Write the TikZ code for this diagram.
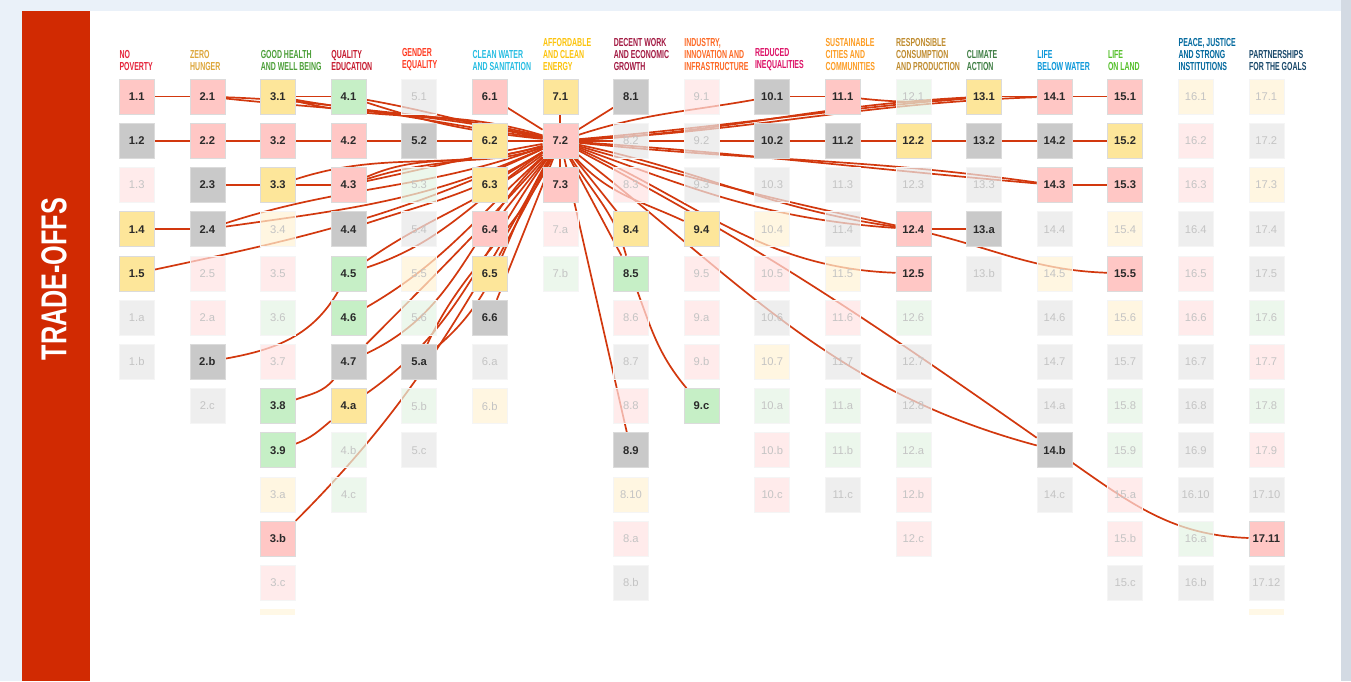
\documentclass[tikz,border=0pt]{standalone}
\usepackage{fontspec}
\setmainfont{Liberation Sans}
\newfontfamily\hdfont[FakeStretch=0.6]{Liberation Sans}
\newfontfamily\sidefont[FakeStretch=0.7]{Liberation Sans}

\definecolor{pagebg}{HTML}{EAF1F9}
\definecolor{edgegray}{HTML}{D3DAE3}
\definecolor{sidebar}{HTML}{D12A02}
\definecolor{linkred}{HTML}{D2380E}
\definecolor{tgtext}{HTML}{2A2A2A}
\definecolor{fdtext}{HTML}{C4C4C4}
\definecolor{tgpink}{HTML}{FFC7C5}
\definecolor{tggray}{HTML}{C9C9C9}
\definecolor{tgyel}{HTML}{FDE69A}
\definecolor{tggrn}{HTML}{C6EFC6}
\definecolor{fdpink}{HTML}{FFE3E3}
\definecolor{fdgray}{HTML}{E8E8E8}
\definecolor{fdyel}{HTML}{FFF3D5}
\definecolor{fdgrn}{HTML}{E5F5E5}
\definecolor{sdg1}{HTML}{E5243B}
\definecolor{sdg2}{HTML}{DDA63A}
\definecolor{sdg3}{HTML}{4C9F38}
\definecolor{sdg4}{HTML}{C5192D}
\definecolor{sdg5}{HTML}{FF3A21}
\definecolor{sdg6}{HTML}{26BDE2}
\definecolor{sdg7}{HTML}{FCC30B}
\definecolor{sdg8}{HTML}{A21942}
\definecolor{sdg9}{HTML}{FD6925}
\definecolor{sdg10}{HTML}{DD1367}
\definecolor{sdg11}{HTML}{FD9D24}
\definecolor{sdg12}{HTML}{BF8B2E}
\definecolor{sdg13}{HTML}{3F7E44}
\definecolor{sdg14}{HTML}{0A97D9}
\definecolor{sdg15}{HTML}{56C02B}
\definecolor{sdg16}{HTML}{00689D}
\definecolor{sdg17}{HTML}{19486A}

\pgfdeclarelayer{back}
\pgfdeclarelayer{links}
\pgfsetlayers{back,links,main}

\tikzset{
  box/.style={minimum size=17.5pt, inner sep=0pt, line width=0.3pt,
    font=\fontsize{5.6}{6}\selectfont},
  strong/.style={text=tgtext, draw=black!14, font=\fontsize{5.6}{6}\selectfont\bfseries},
  faint/.style={text=fdtext, draw=black!4, fill opacity=0.7, text opacity=1},
  cP/.style={strong, fill=tgpink},
  cG/.style={strong, fill=tggray},
  cY/.style={strong, fill=tgyel},
  cN/.style={strong, fill=tggrn},
  cp/.style={faint, fill=fdpink},
  cg/.style={faint, fill=fdgray},
  cy/.style={faint, fill=fdyel},
  cn/.style={faint, fill=fdgrn},
  hd/.style={anchor=south west, align=left, inner sep=0pt,
    font=\fontsize{5.8}{6}\hdfont\bfseries},
  link/.style={draw=linkred, line width=0.85pt}
}

\begin{document}
\begin{tikzpicture}[x=0.5pt, y=-0.5pt]

\useasboundingbox (0,0) rectangle (1351,681);

\begin{pgfonlayer}{back}
\fill[pagebg] (0,0) rectangle (1351,681);
\fill[edgegray] (1341,0) rectangle (1351,681);
\fill[white] (90,11) rectangle (1341,681);
\fill[sidebar] (22,11) rectangle (90,681);
\end{pgfonlayer}

\node[rotate=90, text=white, font=\fontsize{18}{18}\sidefont\bfseries] (side) at (54,279) {TRADE-OFFS};

\foreach \c/\col/\txt in {
  1/sdg1/{NO\\POVERTY}, 2/sdg2/{ZERO\\HUNGER}, 3/sdg3/{GOOD HEALTH\\AND WELL BEING},
  4/sdg4/{QUALITY\\EDUCATION}, 5/sdg5/{GENDER\\EQUALITY}, 6/sdg6/{CLEAN WATER\\AND SANITATION},
  7/sdg7/{AFFORDABLE\\AND CLEAN\\ENERGY}, 8/sdg8/{DECENT WORK\\AND ECONOMIC\\GROWTH},
  9/sdg9/{INDUSTRY,\\INNOVATION AND\\INFRASTRUCTURE}, 10/sdg10/{REDUCED\\INEQUALITIES},
  11/sdg11/{SUSTAINABLE\\CITIES AND\\COMMUNITIES}, 12/sdg12/{RESPONSIBLE\\CONSUMPTION\\AND PRODUCTION},
  13/sdg13/{CLIMATE\\ACTION}, 14/sdg14/{LIFE\\BELOW WATER}, 15/sdg15/{LIFE\\ON LAND},
  16/sdg16/{PEACE, JUSTICE\\AND STRONG\\INSTITUTIONS}, 17/sdg17/{PARTNERSHIPS\\FOR THE GOALS}}
  \node[hd, text=\col] (h\c) at ({119.2+(\c-1)*70.6},71) {\txt};

\foreach \c/\lst in {
  1/{1/cP,2/cG,3/cp,4/cY,5/cY,a/cg,b/cg},
  2/{1/cP,2/cP,3/cG,4/cG,5/cp,a/cp,b/cG,c/cg},
  3/{1/cY,2/cP,3/cY,4/cy,5/cp,6/cn,7/cp,8/cN,9/cN,a/cy,b/cP,c/cp},
  4/{1/cN,2/cP,3/cP,4/cG,5/cN,6/cN,7/cG,a/cY,b/cn,c/cn},
  5/{1/cg,2/cG,3/cn,4/cg,5/cy,6/cn,a/cG,b/cn,c/cg},
  6/{1/cP,2/cY,3/cY,4/cP,5/cY,6/cG,a/cg,b/cy},
  7/{1/cY,2/cP,3/cP,a/cp,b/cn},
  8/{1/cG,2/cg,3/cp,4/cY,5/cN,6/cp,7/cg,8/cp,9/cG,10/cy,a/cp,b/cg},
  9/{1/cp,2/cg,3/cg,4/cY,5/cp,a/cp,b/cp,c/cN},
  10/{1/cG,2/cG,3/cg,4/cy,5/cp,6/cg,7/cy,a/cn,b/cp,c/cp},
  11/{1/cP,2/cG,3/cg,4/cg,5/cy,6/cp,7/cg,a/cn,b/cn,c/cg},
  12/{1/cn,2/cY,3/cg,4/cP,5/cP,6/cn,7/cg,8/cg,a/cn,b/cp,c/cp},
  13/{1/cY,2/cG,3/cg,a/cG,b/cg},
  14/{1/cP,2/cG,3/cP,4/cg,5/cy,6/cg,7/cg,a/cg,b/cG,c/cg},
  15/{1/cP,2/cY,3/cP,4/cy,5/cP,6/cy,7/cg,8/cn,9/cn,a/cp,b/cp,c/cg},
  16/{1/cy,2/cp,3/cp,4/cg,5/cp,6/cp,7/cg,8/cg,9/cg,10/cg,a/cn,b/cg},
  17/{1/cy,2/cg,3/cy,4/cg,5/cg,6/cn,7/cp,8/cn,9/cp,10/cg,11/cP,12/cg}}
  \foreach \s/\k [count=\r] in \lst
    \node[box, \k] (n\c-\s) at ({136.7+(\c-1)*70.6},{96.6+(\r-1)*44.2}) {\c.\s};

\fill[fdyel!60] (260.4,609) rectangle (295.4,615);
\fill[fdyel!60] (1248.8,609) rectangle (1283.8,615);

\begin{pgfonlayer}{links}
\draw[link] (n1-2) -- (n2-2) -- (n3-2) -- (n4-2) -- (n5-2) -- (n6-2) -- (n7-2) -- (n8-2)
  -- (n9-2) -- (n10-2) -- (n11-2) -- (n12-2) -- (n13-2) -- (n14-2) -- (n15-2);

\draw[link] (n1-1) -- (n2-1);
\draw[link] (n2-1) to[out=-2, in=172] (n7-2);
\draw[link] (n2-1) to[out=-6, in=168] (n7-2);
\draw[link] (n3-1) -- (n4-1);
\draw[link] (n3-1) to[out=-10, in=166] (n7-2);
\draw[link] (n3-1) to[out=-14, in=163] (n7-2);
\draw[link] (n4-1) to[out=-10, in=170] (n7-2);
\draw[link] (n4-1) to[out=-18, in=174] (n7-2);

\draw[link] (n2-3) -- (n3-3);
\draw[link] (n3-3) to[out=18, in=196] (n7-2);
\draw[link] (n3-3) -- (n4-3);
\draw[link] (n4-3) to[out=12, in=190] (n7-2);
\draw[link] (n4-3) to[out=18, in=196] (n7-2);
\draw[link] (n4-3) to[out=24, in=200] (n7-2);
\draw[link] (n1-4) -- (n2-4);
\draw[link] (n2-4) to[out=18, in=200] (n7-2);
\draw[link] (n2-4) to[out=8, in=204] (n7-2);
\draw[link] (n1-5) to[out=12, in=205] (n7-2);
\draw[link] (n4-4) to[out=18, in=212] (n7-2);
\draw[link] (n4-5) to[out=35, in=218] (n7-2);
\draw[link] (n4-5) to[out=18, in=214] (n7-2);
\draw[link] (n2-b) to[out=10, in=240] (n4-5);
\draw[link] (n4-6) to[out=30, in=222] (n7-2);
\draw[link] (n4-7) to[out=45, in=228] (n7-2);
\draw[link] (n4-7) to[out=25, in=224] (n7-2);
\draw[link] (n3-8) to[out=20, in=230] (n4-7);
\draw[link] (n3-9) to[out=20, in=220] (n4-a);
\draw[link] (n4-a) to[out=35, in=234] (n7-2);
\draw[link] (n3-b) to[out=45, in=240] (n7-2);
\draw[link] (n5-a) to[out=65, in=244] (n7-2);
\draw[link] (n5-a) to[out=40, in=238] (n7-2);
\draw[link] (n6-1) -- (n7-2);
\draw[link] (n6-3) -- (n7-2);
\draw[link] (n6-4) -- (n7-2);
\draw[link] (n6-5) -- (n7-2);
\draw[link] (n6-6) -- (n7-2);
\draw[link] (n7-1) -- (n7-2) -- (n7-3);
\draw[link] (n8-1) -- (n7-2);

\draw[link] (n7-2) to[out=18, in=190] (n10-1);
\draw[link] (n10-1) -- (n11-1);
\draw[link] (n7-2) to[out=5, in=185] (n13-1);
\draw[link] (n7-2) to[out=3, in=183] (n13-1);
\draw[link] (n11-1) to[out=-6, in=186] (n13-1);
\draw[link] (n7-2) to[out=3, in=182] (n14-1);
\draw[link] (n13-1) -- (n14-1);
\draw[link] (n14-1) -- (n15-1);
\draw[link] (n7-2) to[out=-4, in=175] (n14-3);
\draw[link] (n7-2) to[out=-6, in=172] (n14-3);
\draw[link] (n14-3) -- (n15-3);
\draw[link] (n7-2) to[out=-12, in=172] (n12-4);
\draw[link] (n7-2) to[out=-16, in=168] (n12-4);
\draw[link] (n7-2) to[out=-20, in=176] (n12-4);
\draw[link] (n7-2) to[out=-24, in=178] (n12-5);
\draw[link] (n12-4) -- (n13-a);
\draw[link] (n12-4) to[out=-14, in=178] (n15-5);
\draw[link] (n7-2) to[out=-28, in=145] (n14-b);
\draw[link] (n7-2) to[out=-38, in=165] (n14-b);
\draw[link] (n14-b) to[out=-35, in=178] (n17-11);
\draw[link] (n7-2) to[out=-48, in=155] (n9-4);
\draw[link] (n7-2) -- (n8-4);
\draw[link] (n7-2) -- (n8-5);
\draw[link] (n7-2) to[out=-58, in=105] (n8-5);
\draw[link] (n7-2) -- (n8-9);
\draw[link] (n8-5) to[out=-70, in=130] (n9-c);
\end{pgfonlayer}

\end{tikzpicture}
\end{document}
